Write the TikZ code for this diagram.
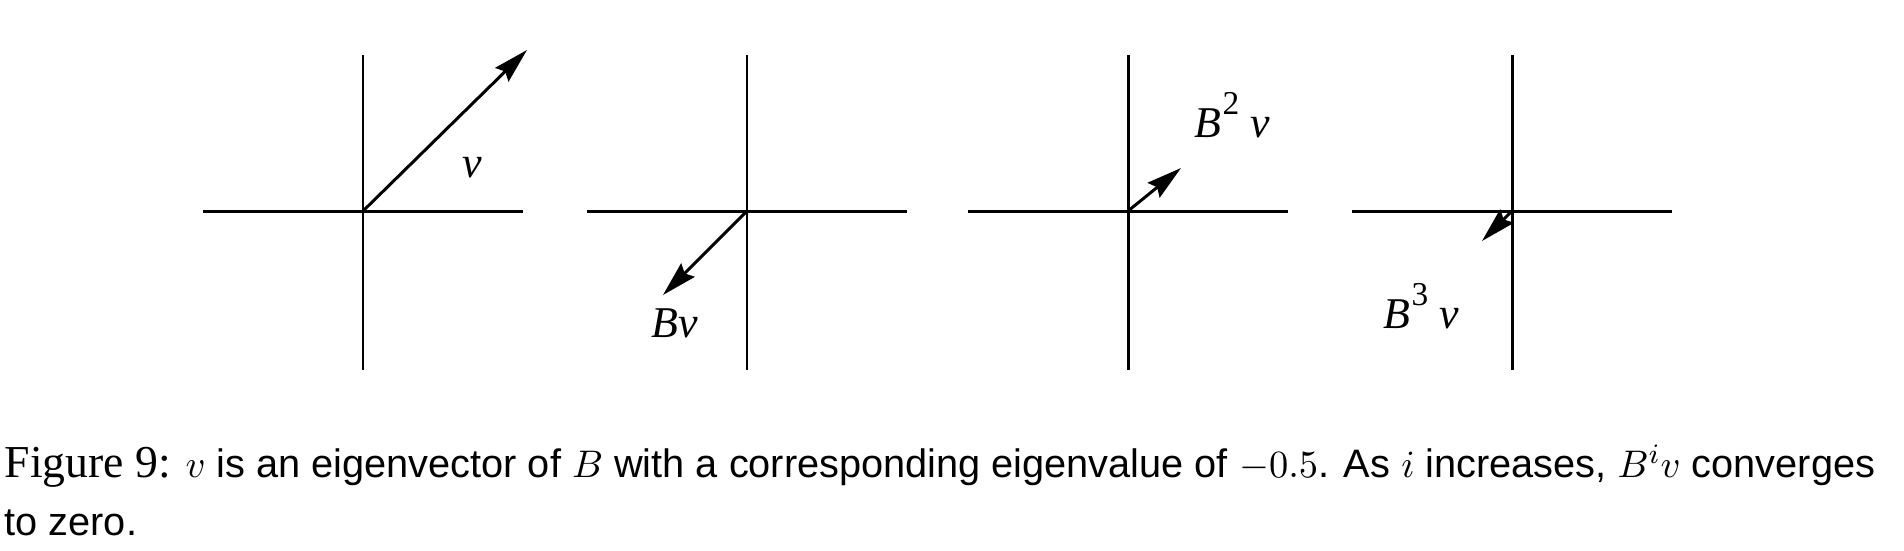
\documentclass[tikz,border=0pt]{standalone}
\usepackage[no-math]{fontspec}
\setmainfont{Liberation Serif}
\setsansfont{Liberation Sans}
\usetikzlibrary{arrows.meta}

\newcommand{\sqpow}[1]{\kern0.5pt\raisebox{6.5pt}{\fontsize{9.5}{9.5}\selectfont\upshape #1}}

\begin{document}
\begin{tikzpicture}[
  axis/.style={line width=0.85pt},
  vec/.style={line width=0.85pt, -{Stealth[length=10pt, width=5.4pt, inset=1.3pt]}},
  lbl/.style={font=\fontsize{12.5}{14}\selectfont\itshape, inner sep=0pt, anchor=base},
  capt/.style={font=\fontsize{11.3}{13}\selectfont\sffamily, inner sep=0pt, anchor=base west}
]
  \useasboundingbox (0,0) rectangle (19.04,-5.5);

  % Origins
  \coordinate (O1) at (3.63,-2.11);
  \coordinate (O2) at (7.47,-2.11);
  \coordinate (O3) at (11.28,-2.11);
  \coordinate (O4) at (15.12,-2.11);

  % Vector tips
  \coordinate (T1) at (5.27,-0.50);
  \coordinate (T2) at (6.63,-2.95);
  \coordinate (T3) at (11.81,-1.68);
  \coordinate (T4) at (14.82,-2.41);

  % Axes
  \draw[axis] ([xshift=-1.6cm]O1) -- ([xshift=1.6cm]O1);
  \draw[axis] ([yshift=1.56cm]O1) -- ([yshift=-1.59cm]O1);
  \draw[axis] ([xshift=-1.6cm]O2) -- ([xshift=1.6cm]O2);
  \draw[axis] ([yshift=1.56cm]O2) -- ([yshift=-1.59cm]O2);
  \draw[axis] ([xshift=-1.6cm]O3) -- ([xshift=1.6cm]O3);
  \draw[axis] ([yshift=1.56cm]O3) -- ([yshift=-1.59cm]O3);
  \draw[axis] ([xshift=-1.6cm]O4) -- ([xshift=1.6cm]O4);
  \draw[axis] ([yshift=1.56cm]O4) -- ([yshift=-1.59cm]O4);

  % Vectors
  \draw[vec] (O1) -- (T1);
  \draw[vec] (O2) -- (T2);
  \draw[vec] (O3) -- (T3);
  \draw[vec] (O4) -- (T4);

  % Labels
  \node[lbl] (lv)  at (4.72,-1.77) {v};
  \node[lbl] (lbv) at (6.745,-3.37) {Bv};
  \node[lbl] (lb2) at (12.32,-1.37) {B\sqpow{2} v};
  \node[lbl] (lb3) at (14.21,-3.28) {B\sqpow{3} v};

  % Caption
  \node[capt] (cap1) at (0.04,-4.77) {{\rmfamily\fontsize{13}{13}\selectfont Figure 9:} $v$ is an eigenvector of $B$ with a corresponding eigenvalue of $-0.5$. As $i$ increases, $B^iv$ converges};
  \node[capt] (cap2) at (0.04,-5.35) {to zero.};
\end{tikzpicture}
\end{document}
